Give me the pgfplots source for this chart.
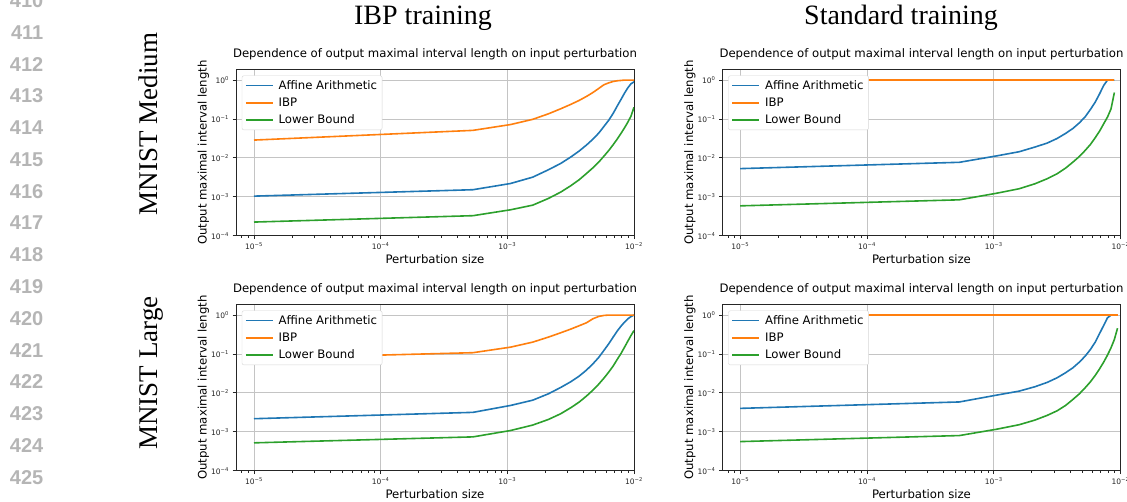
\documentclass[border=0pt]{standalone}
\usepackage{pgfplots}
\pgfplotsset{compat=1.18}
\usepackage{pgfplotstable}
\usepackage{fontspec}
\setmainfont{DejaVu Sans}
\newfontfamily\serifttl{Liberation Serif}
\newfontfamily\lnfont{Liberation Sans}
\definecolor{mplblue}{HTML}{1F77B4}
\definecolor{mplorange}{HTML}{FF7F0E}
\definecolor{mplgreen}{HTML}{2CA02C}
\definecolor{gridc}{HTML}{C4C4C4}
\definecolor{lncol}{HTML}{B5B5B5}
\definecolor{legc}{HTML}{D6D6D6}
\newcommand\tl[1]{10\textsuperscript{#1}}

\pgfplotstableread{
x aa ibp lb
1e-5 1.04e-3 0.0287 2.24e-4
5.3579e-4 1.52e-3 0.051 3.27e-4
1.06158e-3 2.2e-3 0.072 4.64e-4
1.58737e-3 3.2e-3 0.098 6.1e-4
2.11316e-3 4.96e-3 0.136 9.1e-4
2.63895e-3 7.2e-3 0.183 1.32e-3
3.16474e-3 1.05e-2 0.237 1.92e-3
3.69053e-3 0.015 0.30 2.74e-3
4.21632e-3 0.0214 0.38 3.98e-3
4.74211e-3 0.0304 0.48 5.57e-3
5.26789e-3 0.0434 0.61 7.8e-3
5.79368e-3 0.0645 0.76 0.0111
6.31947e-3 0.093 0.85 0.0155
6.84526e-3 0.139 0.92 0.0218
7.37105e-3 0.215 0.96 0.0304
7.89684e-3 0.318 0.98 0.0426
8.42263e-3 0.463 1.0 0.0595
8.94842e-3 0.635 1.0 0.0832
9.47421e-3 0.805 1.0 0.119
1e-2 0.90 1.0 0.20
}\tabTL

\pgfplotstableread{
x aa ibp lb
1e-5 5.3e-3 1.0 5.85e-4
5.3579e-4 7.7e-3 1.0 8.36e-4
1.06158e-3 0.0113 1.0 1.24e-3
1.58737e-3 0.0144 1.0 1.61e-3
2.11316e-3 0.019 1.0 2.16e-3
2.63895e-3 0.024 1.0 2.91e-3
3.16474e-3 0.0316 1.0 3.91e-3
3.69053e-3 0.0426 1.0 5.47e-3
4.21632e-3 0.0572 1.0 7.8e-3
4.74211e-3 0.08 1.0 0.0109
5.26789e-3 0.114 1.0 0.0156
5.79368e-3 0.176 1.0 0.0222
6.31947e-3 0.272 1.0 0.033
6.84526e-3 0.445 1.0 0.0489
7.37105e-3 0.73 1.0 0.0754
7.89684e-3 1.0 1.0 0.112
8.42263e-3 1.0 1.0 0.183
8.94842e-3 1.0 1.0 0.48
}\tabTR

\pgfplotstableread{
x aa ibp lb
1e-5 2.17e-3 0.077 5.2e-4
5.3579e-4 3.16e-3 0.108 7.4e-4
1.06158e-3 4.76e-3 0.150 1.08e-3
1.58737e-3 6.5e-3 0.202 1.49e-3
2.11316e-3 9.5e-3 0.272 2.08e-3
2.63895e-3 0.0138 0.351 2.91e-3
3.16474e-3 0.0193 0.436 4.15e-3
3.69053e-3 0.027 0.532 5.8e-3
4.21632e-3 0.0386 0.635 8.3e-3
4.74211e-3 0.056 0.805 0.0118
5.26789e-3 0.0816 0.924 0.0168
5.79368e-3 0.124 0.98 0.024
6.31947e-3 0.183 1.0 0.0343
6.84526e-3 0.272 1.0 0.0489
7.37105e-3 0.388 1.0 0.0725
7.89684e-3 0.52 1.0 0.103
8.42263e-3 0.66 1.0 0.15
8.94842e-3 0.805 1.0 0.215
9.47421e-3 0.92 1.0 0.30
1e-2 1.0 1.0 0.40
}\tabBL

\pgfplotstableread{
x aa ibp lb
1e-5 4.0e-3 1.0 5.6e-4
5.3579e-4 5.85e-3 1.0 8.0e-4
1.06158e-3 8.8e-3 1.0 1.17e-3
1.58737e-3 0.0111 1.0 1.52e-3
2.11316e-3 0.0144 1.0 2.0e-3
2.63895e-3 0.0186 1.0 2.64e-3
3.16474e-3 0.0245 1.0 3.47e-3
3.69053e-3 0.033 1.0 4.76e-3
4.21632e-3 0.0443 1.0 6.8e-3
4.74211e-3 0.062 1.0 9.5e-3
5.26789e-3 0.0883 1.0 0.0136
5.79368e-3 0.131 1.0 0.0193
6.31947e-3 0.202 1.0 0.0281
6.84526e-3 0.338 1.0 0.0417
7.37105e-3 0.542 1.0 0.062
7.89684e-3 0.853 1.0 0.0937
8.42263e-3 1.0 1.0 0.145
8.94842e-3 1.0 1.0 0.237
9.47421e-3 1.0 1.0 0.46
}\tabBR

\pgfplotsset{
  every axis/.append style={
    scale only axis, height=166pt, width=398pt,
    ymin=1e-4, ymax=1.85,
    ytick={1e-4,1e-3,1e-2,1e-1,1},
    yticklabels={\tl{−4},\tl{−3},\tl{−2},\tl{−1},\tl{0}},
    xtick={1e-5,1e-4,1e-3,1e-2},
    xticklabels={\tl{−5},\tl{−4},\tl{−3},\tl{−2}},
    minor xtick={8e-6,9e-6,2e-5,3e-5,4e-5,5e-5,6e-5,7e-5,8e-5,9e-5,2e-4,3e-4,4e-4,5e-4,6e-4,7e-4,8e-4,9e-4,2e-3,3e-3,4e-3,5e-3,6e-3,7e-3,8e-3,9e-3},
    yminorticks=false,
    xmajorgrids, ymajorgrids,
    grid style={gridc, line width=0.8pt},
    axis line style={black!85, line width=0.8pt},
    tick style={black!85, line width=0.8pt},
    tick align=outside, major tick length=3.5pt, minor tick length=2pt,
    tick pos=left,
    tick label style={font=\fontsize{7.5}{8}\selectfont, text=black!85},
    title={Dependence of output maximal interval length on input perturbation},
    title style={font=\fontsize{11.7}{13}\selectfont, anchor=base, at={(axis description cs:0.5,1.039)}},
    xlabel={Perturbation size},
    xlabel style={font=\fontsize{11.7}{13}\selectfont, at={(axis description cs:0.5,-0.166)}, anchor=base},
    ylabel={Output maximal interval length},
    ylabel style={font=\fontsize{11.7}{13}\selectfont, anchor=base, at={(axis description cs:-0.0736,0.5)}},
    legend cell align=left,
    legend image code/.code={\draw[mark repeat=2,mark phase=2,#1] plot coordinates {(0pt,0pt) (13.5pt,0pt) (27pt,0pt)};},
    legend style={font=\fontsize{11.7}{13}\selectfont, anchor=north west,
      at={(axis description cs:0.0145,0.965)},
      draw=legc, rounded corners=2pt, fill=white,
      inner xsep=3pt, inner ysep=2.5pt, row sep=3.2pt, column sep=3pt},
  },
}

\begin{document}
\begin{tikzpicture}
\useasboundingbox (0pt,0pt) rectangle (1127pt,502pt);

\foreach \n in {410,...,426} {
  \pgfmathsetmacro\yy{502-(32.3+31.79*(\n-411))}
  \node[anchor=east, inner sep=0pt, text=lncol, font=\lnfont\bfseries\fontsize{20}{20}\selectfont] at (43.5pt,\yy pt) {\n};
}

\node[anchor=base, inner sep=0pt, font=\serifttl\fontsize{28}{30}\selectfont] at (423pt,477pt) {IBP training};
\node[anchor=base, inner sep=0pt, font=\serifttl\fontsize{28}{30}\selectfont] at (901pt,477pt) {Standard training};

\node[anchor=base, rotate=90, inner sep=0pt, font=\serifttl\fontsize{27}{30}\selectfont] at (157pt,378pt) {MNIST Medium};
\node[anchor=base, rotate=90, inner sep=0pt, font=\serifttl\fontsize{27}{30}\selectfont] at (157pt,129pt) {MNIST Large};

\begin{loglogaxis}[xmin=7.21e-6, xmax=1e-2, at={(236pt,266.3pt)}, anchor=south west]
\addplot[color=mplblue, line width=1.6pt] table[x=x,y=aa] {\tabTL};
\addlegendentry{Affine Arithmetic}
\addplot[color=mplorange, line width=1.6pt] table[x=x,y=ibp] {\tabTL};
\addlegendentry{IBP}
\addplot[color=mplgreen, line width=1.6pt] table[x=x,y=lb] {\tabTL};
\addlegendentry{Lower Bound}
\end{loglogaxis}

\begin{loglogaxis}[xmin=7.25e-6, xmax=1e-2, at={(722.5pt,266.3pt)}, anchor=south west]
\addplot[color=mplblue, line width=1.6pt] table[x=x,y=aa] {\tabTR};
\addlegendentry{Affine Arithmetic}
\addplot[color=mplorange, line width=1.6pt] table[x=x,y=ibp] {\tabTR};
\addlegendentry{IBP}
\addplot[color=mplgreen, line width=1.6pt] table[x=x,y=lb] {\tabTR};
\addlegendentry{Lower Bound}
\end{loglogaxis}

\begin{loglogaxis}[xmin=7.21e-6, xmax=1e-2, at={(236pt,31.3pt)}, anchor=south west]
\addplot[color=mplblue, line width=1.6pt] table[x=x,y=aa] {\tabBL};
\addlegendentry{Affine Arithmetic}
\addplot[color=mplorange, line width=1.6pt] table[x=x,y=ibp] {\tabBL};
\addlegendentry{IBP}
\addplot[color=mplgreen, line width=1.6pt] table[x=x,y=lb] {\tabBL};
\addlegendentry{Lower Bound}
\end{loglogaxis}

\begin{loglogaxis}[xmin=7.25e-6, xmax=1e-2, at={(722.5pt,31.3pt)}, anchor=south west]
\addplot[color=mplblue, line width=1.6pt] table[x=x,y=aa] {\tabBR};
\addlegendentry{Affine Arithmetic}
\addplot[color=mplorange, line width=1.6pt] table[x=x,y=ibp] {\tabBR};
\addlegendentry{IBP}
\addplot[color=mplgreen, line width=1.6pt] table[x=x,y=lb] {\tabBR};
\addlegendentry{Lower Bound}
\end{loglogaxis}
\end{tikzpicture}
\end{document}
